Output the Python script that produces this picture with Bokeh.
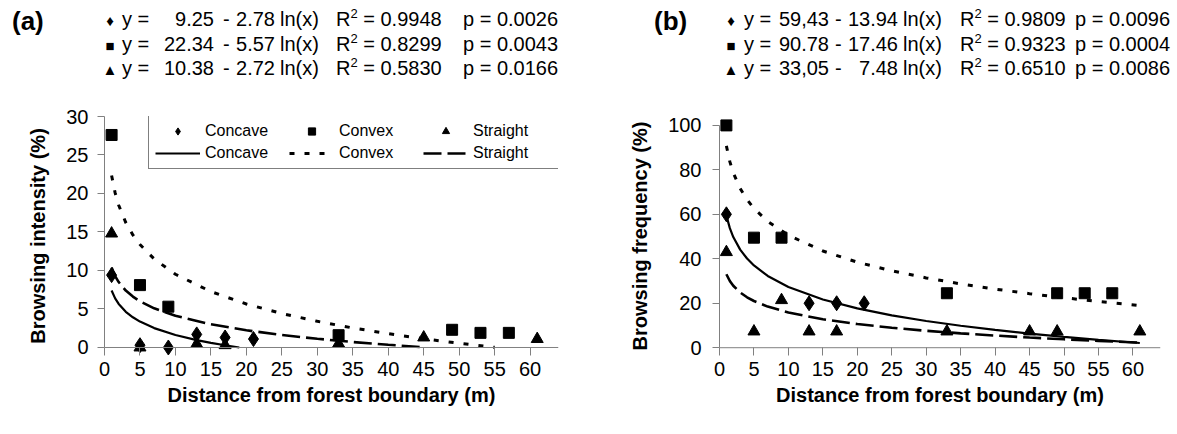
from bokeh.plotting import figure
from bokeh.models import Range1d, Legend, LegendItem, FixedTicker, Span, Div
from bokeh.layouts import row, column
from bokeh.embed import file_html
from bokeh.resources import INLINE

FONT = "Liberation Sans"

# ---------------- data: (a) browsing intensity ----------------
a_concave_x = [1, 5, 9, 13, 17, 21]
a_concave_y = [9.4, 0.3, 0.0, 1.7, 1.3, 1.1]
a_convex_x = [1, 5, 9, 33, 49, 53, 57]
a_convex_y = [27.6, 8.1, 5.3, 1.6, 2.3, 1.9, 1.9]
a_straight_x = [1, 5, 13, 17, 33, 45, 61]
a_straight_y = [14.8, 0.0, 0.45, 0.3, 0.5, 1.3, 1.1]

# trend lines as drawn
a_fit_concave_x = [1, 1.5, 2, 3, 4, 5, 7, 10, 13, 15, 17, 19]
a_fit_concave_y = [7.40, 6.38, 5.66, 4.64, 3.92, 3.36, 2.52, 1.62, 0.96, 0.60, 0.29, 0.0]
a_fit_convex_x = [1, 1.5, 2, 3, 4, 5, 7, 10, 15, 20, 25, 30, 35, 40, 45, 50, 55]
a_fit_convex_y = [22.34, 20.08, 18.48, 16.22, 14.62, 13.38, 11.50, 9.51, 7.26, 5.65,
                  4.41, 3.40, 2.54, 1.79, 1.13, 0.55, 0.02]
a_fit_straight_x = [1, 1.5, 2, 3, 4, 5, 7, 10, 15, 20, 25, 30, 35, 40, 45]
a_fit_straight_y = [10.38, 9.28, 8.50, 7.39, 6.61, 6.00, 5.09, 4.12, 3.01, 2.23,
                    1.62, 1.13, 0.71, 0.35, 0.03]

# ---------------- data: (b) browsing frequency ----------------
b_concave_x = [1, 13, 17, 21]
b_concave_y = [60, 20, 20, 20]
b_convex_x = [1, 5, 9, 33, 49, 53, 57]
b_convex_y = [100, 49.5, 49.5, 24.5, 24.5, 24.5, 24.5]
b_straight_x = [1, 5, 9, 13, 17, 33, 45, 49, 61]
b_straight_y = [43, 7.3, 21.4, 7.3, 7.3, 7.3, 7.3, 7.3, 7.3]

b_fit_x = [1, 1.5, 2, 3, 4, 5, 7, 10, 15, 20, 25, 30, 35, 40, 45, 50, 55, 61]
b_fit_concave_y = [59.43, 53.78, 49.77, 44.11, 40.11, 37.00, 32.30, 27.33, 21.68, 17.67,
                   14.56, 12.02, 9.87, 8.01, 6.36, 4.90, 3.57, 2.12]
b_fit_convex_y = [90.78, 83.70, 78.68, 71.60, 66.58, 62.68, 56.80, 50.57, 43.50, 38.47,
                  34.58, 31.40, 28.71, 26.37, 24.31, 22.47, 20.81, 19.00]
b_fit_straight_y = [33.05, 30.02, 27.87, 24.83, 22.68, 21.01, 18.49, 15.83, 12.79, 10.64,
                    8.97, 7.61, 6.46, 5.46, 4.57, 3.79, 3.08, 2.30]

# ---------------- ticks / labels ----------------
x_ticks = [0, 5, 10, 15, 20, 25, 30, 35, 40, 45, 50, 55, 60]
a_y_ticks = [0, 5, 10, 15, 20, 25, 30]
b_y_ticks = [0, 20, 40, 60, 80, 100]
series_names = ["Concave", "Convex", "Straight"]
x_title = "Distance from forest boundary (m)"
a_y_title = "Browsing intensity (%)"
b_y_title = "Browsing frequency (%)"

# regression equations shown above each panel
eq_symbols = ["\u2666", "\u25a0", "\u25b2"]
a_eq_const = ["9.25", "22.34", "10.38"]
a_eq_coef = ["2.78", "5.57", "2.72"]
a_eq_r2 = ["0.9948", "0.8299", "0.5830"]
a_eq_p = ["0.0026", "0.0043", "0.0166"]
b_eq_const = ["59,43", "90.78", "33,05"]
b_eq_coef = ["13.94", "17.46", "7.48"]
b_eq_r2 = ["0.9809", "0.9323", "0.6510"]
b_eq_p = ["0.0096", "0.0004", "0.0086"]

AX = "#808080"
HEAD_H = 100
FIG_H = 330
X_MAX = 64
EQ_SIZE = 20


# ---------------- header (equations) ----------------
def span(x, baseline, text, size=EQ_SIZE, bold=False, align="left", width=64):
    top = baseline - round(size * 0.8465)
    st = f"position:absolute;top:{top}px;font-size:{size}px;line-height:1;white-space:nowrap;"
    if bold:
        st += "font-weight:bold;"
    if align == "right":
        st += f"left:{x - width}px;width:{width}px;text-align:right;"
    elif align == "center":
        st += f"left:{x - width / 2}px;width:{width}px;text-align:center;"
    else:
        st += f"left:{x}px;"
    return f'<span style="{st}">{text}</span>'


def header_html(tag, tag_x, consts, coefs, r2s, ps, pos):
    sym_x, yeq_x, const_r, minus_x, coef_r, ln_x, r2_x, p_x = pos
    out = [span(tag_x, 30, tag, size=26, bold=True)]
    for i in range(3):
        b = 26 + 24.5 * i
        out.append(span(sym_x, b, eq_symbols[i], size=15, align="center", width=20))
        out.append(span(yeq_x, b, "y ="))
        out.append(span(const_r, b, consts[i], align="right"))
        out.append(span(minus_x, b, "-"))
        out.append(span(coef_r, b, coefs[i], align="right"))
        out.append(span(ln_x, b, "ln(x)"))
        out.append(span(r2_x, b, f'R<sup style="font-size:13px;line-height:0">2</sup> = {r2s[i]}'))
        out.append(span(p_x, b, "p = " + ps[i]))
    return "".join(out)


html = (f'<div style="position:relative;width:1176px;height:{HEAD_H}px;'
        f'font-family:\'{FONT}\';color:black;">'
        + header_html("(a)", 12, a_eq_const, a_eq_coef, a_eq_r2, a_eq_p,
                      (110, 122, 214, 223, 275, 280, 336, 463))
        + header_html("(b)", 654, b_eq_const, b_eq_coef, b_eq_r2, b_eq_p,
                      (731, 744, 829, 835, 898, 903, 960, 1075))
        + "</div>")
head = Div(text=html, width=1176, height=HEAD_H, margin=0)


# ---------------- panels ----------------
def panel(width, bl, br, bt, bb, y_lo, y_hi, y_top, y_ticks, y_title, lab_standoff,
          title_standoff, tick_in):
    p = figure(width=width, height=FIG_H, x_range=Range1d(0, X_MAX), y_range=Range1d(y_lo, y_hi),
               toolbar_location=None, output_backend="svg",
               min_border_left=bl, min_border_right=br, min_border_top=bt, min_border_bottom=bb)
    p.outline_line_color = None
    p.grid.visible = False
    xa = p.xaxis[0]
    ya = p.yaxis[0]
    xa.ticker = FixedTicker(ticks=x_ticks)
    ya.ticker = FixedTicker(ticks=y_ticks)
    ya.bounds = (0, y_top)
    for ax in (xa, ya):
        ax.axis_line_color = AX
        ax.axis_line_width = 1
        ax.major_tick_line_color = AX
        ax.major_tick_in = 0
        ax.minor_tick_line_color = None
        ax.major_label_text_font = FONT
        ax.major_label_text_font_size = "20px"
        ax.major_label_text_color = "black"
        ax.axis_label_text_font = FONT
        ax.axis_label_text_font_size = "20px"
        ax.axis_label_text_font_style = "bold"
        ax.axis_label_text_color = "black"
    # x axis line lives at y = 0 (a little above the frame bottom); ticks hang below it
    xa.axis_line_color = None
    xa.major_tick_in = tick_in
    xa.major_tick_out = 0
    xa.major_label_standoff = 6
    xa.axis_label_standoff = 5
    ya.major_tick_out = 7
    ya.major_label_standoff = lab_standoff
    ya.axis_label_standoff = title_standoff
    xa.axis_label = x_title
    ya.axis_label = y_title
    p.add_layout(Span(location=0, dimension="width", line_color=AX, line_width=1))
    return p


def draw(p, pts, fits):
    lines = []
    dashes = ["solid", "5 10", "18 6"]
    widths = [2.2, 3, 2.6]
    for (fx, fy), d, w in zip(fits, dashes, widths):
        lines.append(p.line(fx, fy, line_color="black", line_width=w, line_dash=d))
    markers = ["diamond", "square", "triangle"]
    sizes = [15, 11, 12]
    scat = []
    for (sx, sy), m, s in zip(pts, markers, sizes):
        scat.append(p.scatter(sx, sy, marker=m, size=s, fill_color="black", line_color="black"))
    return scat, lines


# (a): frame 116..355 on the page, y = 0 at 347
A_LO, A_HI = -1.04, 30
pA = panel(588, 104, 30, 16, FIG_H - 16 - 239, A_LO, A_HI, 30, a_y_ticks, a_y_title, 9, 14, 8)
scA, lnA = draw(pA,
                [(a_concave_x, a_concave_y), (a_convex_x, a_convex_y), (a_straight_x, a_straight_y)],
                [(a_fit_concave_x, a_fit_concave_y), (a_fit_convex_x, a_fit_convex_y),
                 (a_fit_straight_x, a_fit_straight_y)])
items = [LegendItem(label=n, renderers=[r]) for n, r in zip(series_names, scA)]
items += [LegendItem(label=n, renderers=[r]) for n, r in zip(series_names, lnA)]
legend = Legend(items=items, location=(44, 186), orientation="horizontal", ncols=3,
                label_text_font=FONT, label_text_font_size="16px", label_text_color="black",
                glyph_width=45, glyph_height=18, label_height=18, label_width=80,
                label_standoff=5, spacing=4, padding=6, margin=0,
                border_line_color="black", border_line_width=1,
                background_fill_color="white", background_fill_alpha=1)
pA.add_layout(legend)

# (b): frame 108..355 on the page, y = 0 at 347
B_LO, B_HI = -3.5, 104
pB = panel(588, 131, 16, 8, FIG_H - 8 - 247, B_LO, B_HI, 100, b_y_ticks, b_y_title, 11, 14, 8)
draw(pB,
     [(b_concave_x, b_concave_y), (b_convex_x, b_convex_y), (b_straight_x, b_straight_y)],
     [(b_fit_x, b_fit_concave_y), (b_fit_x, b_fit_convex_y), (b_fit_x, b_fit_straight_y)])

layout = column(head, row(pA, pB))
open("out.html", "w").write(file_html(layout, INLINE))
